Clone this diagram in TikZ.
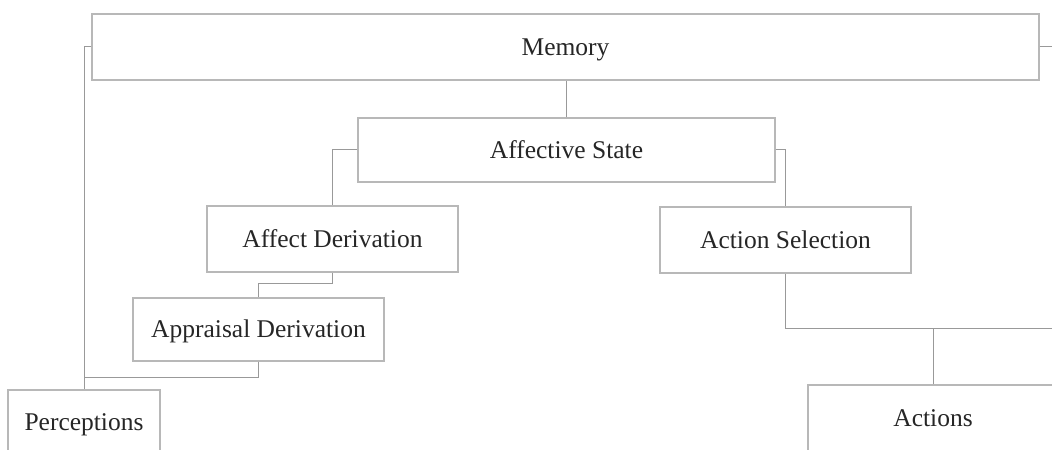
\documentclass[tikz,border=0pt]{standalone}
\usepackage{fontspec}
\setmainfont{Liberation Serif}
\begin{document}
\begin{tikzpicture}[x=1bp,y=-1bp,
  box/.style={draw=black!28, line width=1.3bp, fill=white, inner sep=0pt,
    text=black!85, font=\fontsize{25.5bp}{30bp}\selectfont,
    text height=19bp, text depth=2bp},
  link/.style={draw=black!40, line width=1bp}]
  \clip (0,0) rectangle (1052,450);
  \fill[white] (0,0) rectangle (1052,450);

  % boxes
  \node[box, minimum width=947bp, minimum height=66bp] (mem)  at (565.5,47)  {Memory};
  \node[box, minimum width=417bp, minimum height=64bp] (afs)  at (566.5,150) {Affective State};
  \node[box, minimum width=251bp, minimum height=66bp] (ad)   at (332.5,239) {Affect Derivation};
  \node[box, minimum width=251bp, minimum height=66bp] (asel) at (785.5,240) {Action Selection};
  \node[box, minimum width=251bp, minimum height=63bp] (app)  at (258.5,329.5) {Appraisal Derivation};
  \node[box, minimum width=152bp, minimum height=64bp] (perc) at (84,422)    {Perceptions};
  \node[box, minimum width=250bp, minimum height=66bp] (act)  at (933,418)   {Actions};

  % loose ends running off the right side
  \coordinate (medge) at (1052,47);
  \coordinate (redge) at (1052,329);

  % connectors
  \draw[link] (afs.north) -- (afs.north |- mem.south);
  \draw[link] (mem.west) -| (perc.north);
  \draw[link] (mem.east) -- (medge);
  \draw[link] (afs.west) -| (ad.north);
  \draw[link] (afs.east) -| (asel.north);
  \draw[link] (ad.south) -- ++(0,11) -| (app.north);
  \draw[link] (app.south) -- ++(0,16) -| (perc.north);
  \draw[link] (asel.south) |- (redge);
  \draw[link] (act.north) -- (act.north |- redge);
\end{tikzpicture}
\end{document}
